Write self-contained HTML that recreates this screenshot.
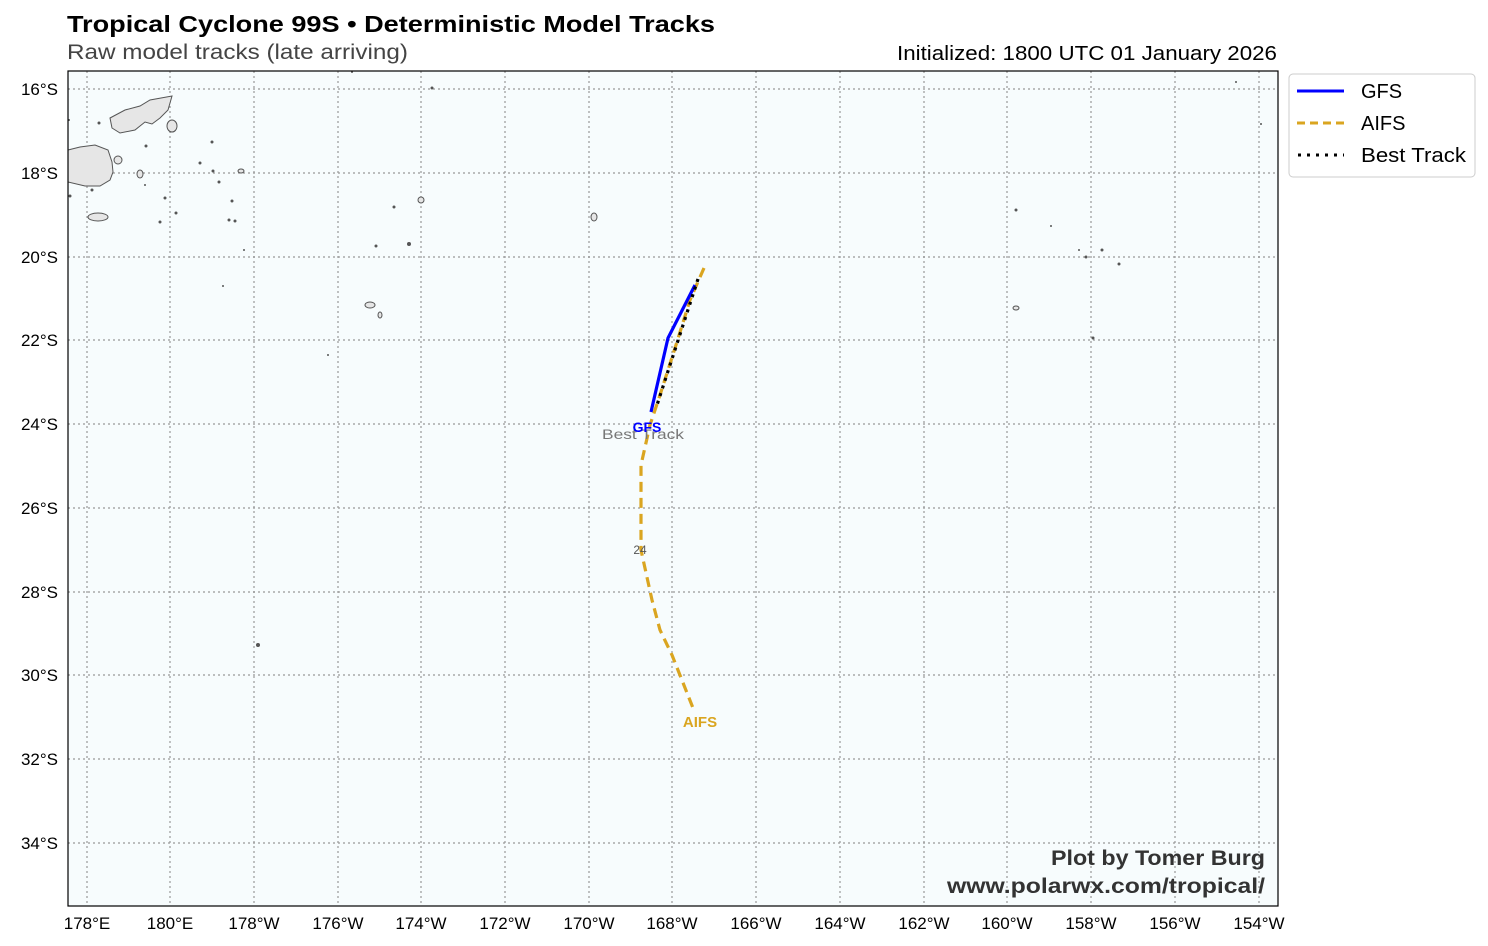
<!DOCTYPE html>
<html><head><meta charset="utf-8"><style>
html,body{margin:0;padding:0;background:#fff;}
svg{display:block;font-family:"Liberation Sans",sans-serif;}
</style></head><body>
<svg width="1488" height="946" viewBox="0 0 1488 946" xmlns="http://www.w3.org/2000/svg">
<rect width="1488" height="946" fill="#fff"/>
<text x="67" y="32" font-size="23" font-weight="bold" fill="#000" textLength="648" lengthAdjust="spacingAndGlyphs">Tropical Cyclone 99S • Deterministic Model Tracks</text>
<text x="67" y="59" font-size="21" fill="#444" textLength="341" lengthAdjust="spacingAndGlyphs">Raw model tracks (late arriving)</text>
<text x="897" y="60" font-size="20" fill="#000" textLength="380" lengthAdjust="spacingAndGlyphs">Initialized: 1800 UTC 01 January 2026</text>
<rect x="68" y="71" width="1210" height="835" fill="#f7fcfd"/>
<g stroke="#999" stroke-width="1.2" stroke-dasharray="2,3" fill="none">
<line x1="87" y1="71" x2="87" y2="906"/><line x1="170" y1="71" x2="170" y2="906"/><line x1="254" y1="71" x2="254" y2="906"/><line x1="338" y1="71" x2="338" y2="906"/><line x1="421" y1="71" x2="421" y2="906"/><line x1="505" y1="71" x2="505" y2="906"/><line x1="589" y1="71" x2="589" y2="906"/><line x1="672" y1="71" x2="672" y2="906"/><line x1="756" y1="71" x2="756" y2="906"/><line x1="840" y1="71" x2="840" y2="906"/><line x1="924" y1="71" x2="924" y2="906"/><line x1="1007" y1="71" x2="1007" y2="906"/><line x1="1091" y1="71" x2="1091" y2="906"/><line x1="1175" y1="71" x2="1175" y2="906"/><line x1="1259" y1="71" x2="1259" y2="906"/>
<line x1="68" y1="89" x2="1278" y2="89"/><line x1="68" y1="173" x2="1278" y2="173"/><line x1="68" y1="257" x2="1278" y2="257"/><line x1="68" y1="340" x2="1278" y2="340"/><line x1="68" y1="424" x2="1278" y2="424"/><line x1="68" y1="508" x2="1278" y2="508"/><line x1="68" y1="592" x2="1278" y2="592"/><line x1="68" y1="675" x2="1278" y2="675"/><line x1="68" y1="759" x2="1278" y2="759"/><line x1="68" y1="843" x2="1278" y2="843"/>
</g>
<g fill="#e6e6e6" stroke="#555" stroke-width="1">
<path d="M110,118 L125,110 L140,106 L150,100 L172,96 L168,110 L160,118 L152,124 L145,122 L135,130 L120,133 L112,128 Z"/>
<path d="M68,150 L80,147 L95,145 L108,150 L112,162 L113,172 L110,180 L100,186 L85,186 L68,182 Z"/>
<ellipse cx="172" cy="126" rx="5" ry="6"/><ellipse cx="118" cy="160" rx="4" ry="4"/>
<ellipse cx="140" cy="174" rx="3" ry="4"/><ellipse cx="98" cy="217" rx="10" ry="4"/>
<ellipse cx="594" cy="217" rx="3" ry="4"/><ellipse cx="370" cy="305" rx="5" ry="3"/>
<ellipse cx="380" cy="315" rx="2" ry="3"/><ellipse cx="421" cy="200" rx="3" ry="3"/>
<ellipse cx="1016" cy="308" rx="3" ry="2"/><ellipse cx="241" cy="171" rx="3" ry="2"/>
</g>
<g fill="#555">
<circle cx="146" cy="146" r="1.5"/><circle cx="99" cy="123" r="1.5"/><circle cx="200" cy="163" r="1.5"/><circle cx="212" cy="142" r="1.5"/><circle cx="213" cy="171" r="1.5"/><circle cx="219" cy="182" r="1.5"/><circle cx="232" cy="201" r="1.5"/><circle cx="176" cy="213" r="1.5"/><circle cx="160" cy="222" r="1.5"/><circle cx="229" cy="220" r="1.5"/><circle cx="235" cy="221" r="1.5"/><circle cx="244" cy="250" r="1"/><circle cx="223" cy="286" r="1"/><circle cx="352" cy="72" r="1"/><circle cx="432" cy="88" r="1.5"/><circle cx="394" cy="207" r="1.5"/><circle cx="376" cy="246" r="1.5"/><circle cx="409" cy="244" r="2"/><circle cx="328" cy="355" r="1"/><circle cx="258" cy="645" r="2"/><circle cx="1016" cy="210" r="1.5"/><circle cx="1051" cy="226" r="1"/><circle cx="1079" cy="250" r="1"/><circle cx="1086" cy="257" r="1.5"/><circle cx="1102" cy="250" r="1.5"/><circle cx="1119" cy="264" r="1.5"/><circle cx="1093" cy="338" r="1.5"/><circle cx="1236" cy="82" r="1"/><circle cx="1261" cy="124" r="1"/><circle cx="69" cy="120" r="1"/><circle cx="70" cy="196" r="1.5"/><circle cx="92" cy="190" r="1.5"/><circle cx="165" cy="198" r="1.5"/><circle cx="145" cy="185" r="1"/>
</g>
<polyline points="704,268 690,300 676,345 660,395 650,425 641,465 641,550 652,600 660,630 672,655 693,708" fill="none" stroke="#daa520" stroke-width="3.2" stroke-dasharray="10,6"/>
<polyline points="695,285 668,338 651,412" fill="none" stroke="#0000ff" stroke-width="3.2"/>
<polyline points="698,279 657,405" fill="none" stroke="#000" stroke-width="3.2" stroke-dasharray="3,5"/>
<text x="643" y="439" font-size="14" fill="#777" text-anchor="middle" textLength="82" lengthAdjust="spacingAndGlyphs">Best Track</text>
<text x="647" y="432" font-size="14" font-weight="bold" fill="#0000ff" text-anchor="middle">GFS</text>
<text x="640" y="554" font-size="12" fill="#555" text-anchor="middle">24</text>
<text x="700" y="727" font-size="15" font-weight="bold" fill="#daa520" text-anchor="middle">AIFS</text>
<text x="1051" y="865" font-size="21" font-weight="bold" fill="#333" textLength="214" lengthAdjust="spacingAndGlyphs">Plot by Tomer Burg</text>
<text x="947" y="893" font-size="21" font-weight="bold" fill="#333" textLength="318" lengthAdjust="spacingAndGlyphs">www.polarwx.com/tropical/</text>
<rect x="68" y="71" width="1210" height="835" fill="none" stroke="#000" stroke-width="1.2"/>
<g font-size="17" fill="#000" text-anchor="end">
<text x="58" y="95">16°S</text><text x="58" y="179">18°S</text><text x="58" y="263">20°S</text><text x="58" y="346">22°S</text><text x="58" y="430">24°S</text><text x="58" y="514">26°S</text><text x="58" y="598">28°S</text><text x="58" y="681">30°S</text><text x="58" y="765">32°S</text><text x="58" y="849">34°S</text>
</g>
<g font-size="17" fill="#000" text-anchor="middle">
<text x="87" y="929">178°E</text><text x="170" y="929">180°E</text><text x="254" y="929">178°W</text><text x="338" y="929">176°W</text><text x="421" y="929">174°W</text><text x="505" y="929">172°W</text><text x="589" y="929">170°W</text><text x="672" y="929">168°W</text><text x="756" y="929">166°W</text><text x="840" y="929">164°W</text><text x="924" y="929">162°W</text><text x="1007" y="929">160°W</text><text x="1091" y="929">158°W</text><text x="1175" y="929">156°W</text><text x="1259" y="929">154°W</text>
</g>
<rect x="1289" y="74" width="186" height="103" rx="4" fill="#fff" stroke="#ccc"/>
<line x1="1297" y1="91" x2="1344" y2="91" stroke="#0000ff" stroke-width="3"/>
<line x1="1297" y1="123" x2="1344" y2="123" stroke="#daa520" stroke-width="3" stroke-dasharray="8,5"/>
<line x1="1298" y1="155" x2="1344" y2="155" stroke="#000" stroke-width="3" stroke-dasharray="3,6"/>
<g font-size="20" fill="#000">
<text x="1361" y="98">GFS</text><text x="1361" y="130">AIFS</text><text x="1361" y="162" textLength="105" lengthAdjust="spacingAndGlyphs">Best Track</text>
</g>
</svg>
</body></html>
